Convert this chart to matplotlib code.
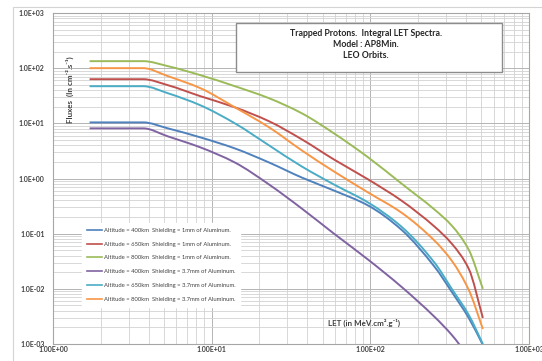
import matplotlib
matplotlib.use("Agg")
import numpy as np
import matplotlib.pyplot as plt
from matplotlib.ticker import LogLocator, FuncFormatter, NullFormatter
from matplotlib.patches import Rectangle, PathPatch
from matplotlib.path import Path
from matplotlib.lines import Line2D

# LET grid (MeV.cm2/g) shared by all spectra
let_values = [1.7, 3.7, 5.3, 8.5, 14, 23, 37, 59, 97, 157, 254, 326, 417, 512]

# Integral fluxes (cm-2.s-1)
flux_400_1mm = [10.4, 10.4, 8.1, 5.56, 3.51, 1.95, 1.04, 0.605, 0.323, 0.118, 0.0251, 0.0088, 0.00297, 0.00096]
flux_650_1mm = [63.1, 63.1, 49.1, 31.0, 19.5, 10.9, 5.12, 2.21, 0.96, 0.398, 0.134, 0.0658, 0.0231, 0.00297]
flux_800_1mm = [134, 134, 108.7, 74.6, 47.1, 28.5, 15.2, 6.58, 2.41, 0.811, 0.273, 0.140, 0.0512, 0.010]
flux_400_37mm = [8.11, 8.11, 5.80, 3.66, 1.95, 0.778, 0.285, 0.100, 0.0337, 0.0109, 0.0031, 0.00146, 0.00058, 0.00025]
flux_650_37mm = [47.1, 47.1, 35.1, 21.2, 10.0, 3.98, 1.65, 0.778, 0.366, 0.134, 0.0297, 0.010, 0.00337, 0.0010]
flux_800_37mm = [100, 100, 71.6, 43.3, 19.5, 8.46, 3.23, 1.34, 0.556, 0.241, 0.0746, 0.0323, 0.0096, 0.00187]

series_labels = [
    "Altitude = 400km  Shielding = 1mm of Aluminum.",
    "Altitude = 650km  Shielding = 1mm of Aluminum.",
    "Altitude = 800km  Shielding = 1mm of Aluminum.",
    "Altitude = 400km  Shielding = 3.7mm of Aluminum.",
    "Altitude = 650km  Shielding = 3.7mm of Aluminum.",
    "Altitude = 800km  Shielding = 3.7mm of Aluminum.",
]
series_values = [flux_400_1mm, flux_650_1mm, flux_800_1mm,
                 flux_400_37mm, flux_650_37mm, flux_800_37mm]
series_colors = ["#4F81BD", "#C0504D", "#9BBB59", "#8064A2", "#4BACC6", "#F79646"]

title_lines = ["Trapped Protons.  Integral LET Spectra.", "Model : AP8Min.", "LEO Orbits."]

FONT = ["Lato", "DejaVu Sans"]
TXT = "#404040"


def smoothed_path(xs, ys):
    """Monotone cubic Bezier path through the points, built in log-log space."""
    lx = np.log10(np.asarray(xs, float))
    ly = np.log10(np.asarray(ys, float))
    h = np.diff(lx)
    d = np.diff(ly) / h
    n = len(lx)
    m = np.zeros(n)
    m[0], m[-1] = d[0], d[-1]
    for i in range(1, n - 1):
        if d[i - 1] * d[i] > 0:
            m[i] = 2.0 / (1.0 / d[i - 1] + 1.0 / d[i])
        else:
            m[i] = 0.0
    verts = [(lx[0], ly[0])]
    codes = [Path.MOVETO]
    for i in range(n - 1):
        c1 = (lx[i] + h[i] / 3, ly[i] + m[i] * h[i] / 3)
        c2 = (lx[i + 1] - h[i] / 3, ly[i + 1] - m[i + 1] * h[i] / 3)
        verts += [c1, c2, (lx[i + 1], ly[i + 1])]
        codes += [Path.CURVE4] * 3
    return Path(10 ** np.array(verts), codes)


W, H = 542, 361
fig = plt.figure(figsize=(W / 100, H / 100), dpi=100)
fig.patch.set_facecolor("white")

# outer chart frame
fig.patches.append(Rectangle((13 / W, -0.05), 1.2, 1 - 7 / H + 0.05,
                             transform=fig.transFigure, fill=False,
                             edgecolor="#d4d4d4", linewidth=0.8, zorder=0))

ax = fig.add_axes([53 / W, 1 - 344 / H, (529 - 53) / W, (344 - 13) / H])
ax.set_xscale("log")
ax.set_yscale("log")
ax.set_xlim(1, 1000)
ax.set_ylim(1e-3, 1e3)

ax.xaxis.set_major_locator(LogLocator(base=10, numticks=10))
ax.yaxis.set_major_locator(LogLocator(base=10, numticks=10))
ax.xaxis.set_minor_locator(LogLocator(base=10, subs=range(2, 10), numticks=20))
ax.yaxis.set_minor_locator(LogLocator(base=10, subs=range(2, 10), numticks=20))
ax.xaxis.set_minor_formatter(NullFormatter())
ax.yaxis.set_minor_formatter(NullFormatter())
ax.xaxis.set_major_formatter(FuncFormatter(lambda v, p: f"{v:.2E}"))
ax.yaxis.set_major_formatter(FuncFormatter(lambda v, p: f"{v:.1E}"))

ax.grid(which="major", color="#b4b4b4", linewidth=0.7)
ax.grid(which="minor", color="#d2d2d2", linewidth=0.6)
ax.set_axisbelow(True)
for s in ax.spines.values():
    s.set_color("#a6a6a6")
    s.set_linewidth(0.8)

ax.tick_params(which="both", length=0)
ax.tick_params(axis="y", pad=6)
ax.tick_params(axis="x", pad=1.5)
for lab in ax.get_xticklabels() + ax.get_yticklabels():
    lab.set_fontfamily(FONT)
    lab.set_fontsize(5.0)
    lab.set_fontweight("bold")
    lab.set_color(TXT)

handles = []
for vals, lab, col in zip(series_values, series_labels, series_colors):
    patch = PathPatch(smoothed_path(let_values, vals), facecolor="none",
                      edgecolor=col, linewidth=1.4, capstyle="butt",
                      joinstyle="round", transform=ax.transData, zorder=3)
    ax.add_patch(patch)
    handles.append(Line2D([], [], color=col, linewidth=1.2, label=lab))

# axis titles placed inside the plotting area
fig.text(70 / W, 1 - 90 / H, "Fluxes  (In cm⁻².s⁻¹)", rotation=90,
         ha="center", va="center", fontsize=5.8, fontweight="bold",
         family=FONT, color=TXT)
fig.text(364 / W, 1 - 323 / H, "LET (in MeV.cm².g⁻¹)",
         ha="center", va="center", fontsize=5.8, fontweight="bold",
         family=FONT, color=TXT)

# title box
box = Rectangle((236 / W, 1 - 72 / H), (502 - 236) / W, (72 - 23) / H,
                transform=fig.transFigure, facecolor="white",
                edgecolor="#8c8c8c", linewidth=1.0, zorder=5)
fig.patches.append(box)
for i, line in enumerate(title_lines):
    fig.text(366 / W, 1 - (34 + 10.8 * i) / H, line, ha="center", va="center",
             fontsize=6.3, fontweight="bold", family=FONT, color="#262626",
             zorder=6)

leg = ax.legend(handles=handles, loc="upper left",
                bbox_to_anchor=(82 / W, 1 - 223 / H),
                bbox_transform=fig.transFigure, frameon=True, fancybox=False,
                facecolor="white", edgecolor="white", framealpha=1,
                prop={"family": FONT, "size": 4.2},
                handlelength=2.6, handletextpad=0.3, labelspacing=1.5,
                borderpad=0.8, borderaxespad=0)
for t in leg.get_texts():
    t.set_color(TXT)

fig.savefig("out.png", dpi=100, facecolor="white")
